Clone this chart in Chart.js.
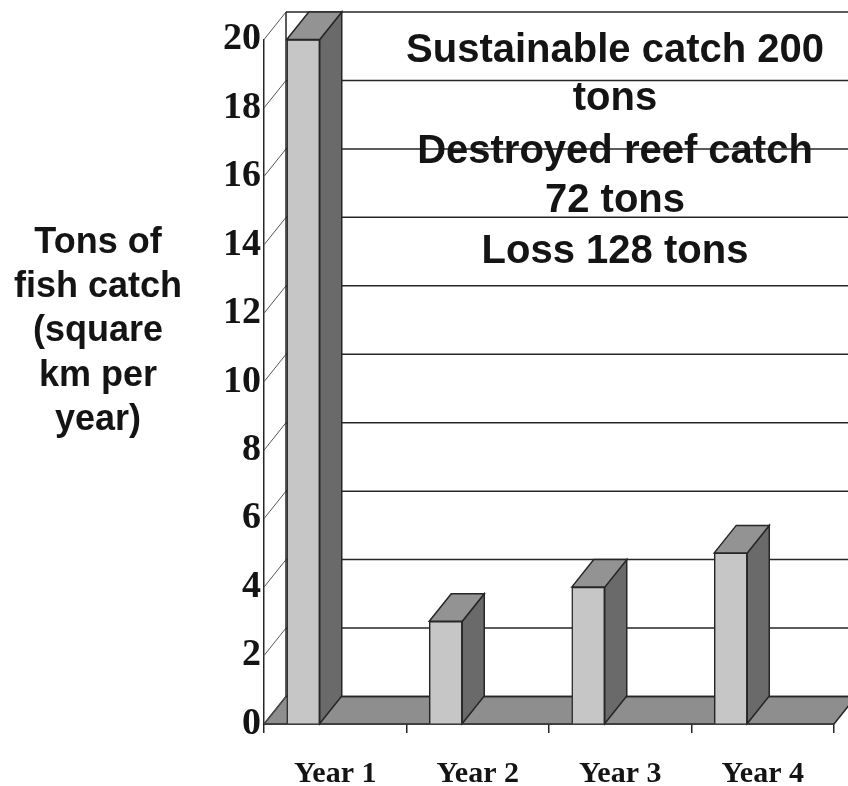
<!DOCTYPE html>
<html>
<head>
<meta charset="utf-8">
<title>Fish catch</title>
<script src="https://cdn.jsdelivr.net/npm/chart.js@4.4.1/dist/chart.umd.min.js"></script>
<style>
  html, body { margin: 0; padding: 0; background: #fff; }
  #wrap { width: 848px; height: 786px; }
</style>
</head>
<body>
<div id="wrap"><canvas id="catchChart" width="848" height="786"></canvas></div>
<script>
// data
const years = ['Year 1', 'Year 2', 'Year 3', 'Year 4'];
const catchTons = [20, 3, 4, 5];
const yMin = 0, yMax = 20, yStep = 2;
const axisTitle = ['Tons of', 'fish catch', '(square', 'km per', 'year)'];
const notes = ['Sustainable catch 200', 'tons', 'Destroyed reef catch', '72 tons', 'Loss 128 tons'];

// look
const SANS = '"Liberation Sans", Arial, sans-serif';
const SERIF = '"Liberation Serif", "Times New Roman", serif';
const INK = '#141414';
const LINE = '#262626';
const FRONT = '#c6c6c6';
const SIDE = '#6a6a6a';
const TOP = '#939393';
const FLOOR = '#8e8e8e';

// fake 3d: depth offset of the back wall, and where bars sit inside a category
const DX = 22, DY = -27.5, SHIFT = -32;

function poly(ctx, pts, fill) {
  ctx.beginPath();
  ctx.moveTo(pts[0][0], pts[0][1]);
  for (let i = 1; i < pts.length; i++) ctx.lineTo(pts[i][0], pts[i][1]);
  ctx.closePath();
  ctx.fillStyle = fill;
  ctx.fill();
  ctx.strokeStyle = LINE;
  ctx.lineWidth = 1.5;
  ctx.stroke();
}

const depthPlugin = {
  id: 'depth',
  beforeDatasetsDraw(chart) {
    const { ctx, chartArea, scales: { y } } = chart;
    const wallLeft = chartArea.left + DX;
    const y0 = y.getPixelForValue(yMin);
    const yTop = y.getPixelForValue(yMax);

    ctx.save();
    // floor
    poly(ctx, [
      [chartArea.left, y0],
      [chartArea.right, y0],
      [chartArea.right + DX, y0 + DY],
      [wallLeft, y0 + DY]
    ], FLOOR);

    // back wall grid and the little slanted tick connectors
    y.ticks.forEach(t => {
      const py = y.getPixelForValue(t.value);
      ctx.beginPath();
      ctx.moveTo(wallLeft, py + DY);
      ctx.lineTo(chart.width, py + DY);
      ctx.strokeStyle = LINE;
      ctx.lineWidth = 1.5;
      ctx.stroke();

      ctx.beginPath();
      ctx.moveTo(chartArea.left, py);
      ctx.lineTo(wallLeft, py + DY);
      ctx.strokeStyle = '#555';
      ctx.lineWidth = 1;
      ctx.stroke();
    });

    ctx.beginPath();
    ctx.moveTo(wallLeft, yTop + DY);
    ctx.lineTo(wallLeft, y0 + DY);
    ctx.strokeStyle = LINE;
    ctx.lineWidth = 1.5;
    ctx.stroke();
    ctx.restore();

    // bars are drawn a bit left of the category centre
    ctx.save();
    ctx.translate(SHIFT, 0);
  },
  afterDatasetsDraw(chart) {
    const ctx = chart.ctx;
    chart.getDatasetMeta(0).data.forEach(bar => {
      const { x, y, base, width } = bar.getProps(['x', 'y', 'base', 'width'], true);
      const l = x - width / 2, r = x + width / 2;
      poly(ctx, [[r, y], [r + DX, y + DY], [r + DX, base + DY], [r, base]], SIDE);
      poly(ctx, [[l, y], [l + DX, y + DY], [r + DX, y + DY], [r, y]], TOP);
    });
    ctx.restore();
  },
  afterDraw(chart) {
    const ctx = chart.ctx;
    ctx.save();
    ctx.fillStyle = INK;
    ctx.textAlign = 'center';
    ctx.textBaseline = 'alphabetic';

    ctx.font = 'bold 36px ' + SANS;
    axisTitle.forEach((s, i) => ctx.fillText(s, 98, 253 + i * 44.2));

    ctx.font = 'bold 40px ' + SANS;
    const noteBase = [62, 110, 163, 212, 263];
    notes.forEach((s, i) => ctx.fillText(s, 615, noteBase[i]));
    ctx.restore();
  }
};

new Chart(document.getElementById('catchChart'), {
  type: 'bar',
  data: {
    labels: years,
    datasets: [{
      data: catchTons,
      backgroundColor: FRONT,
      borderColor: LINE,
      borderWidth: 1.5,
      barThickness: 33,
      clip: false
    }]
  },
  options: {
    responsive: false,
    animation: false,
    layout: { padding: { left: 0, right: 14, top: 39.5, bottom: 0 } },
    plugins: {
      legend: { display: false },
      tooltip: { enabled: false }
    },
    scales: {
      x: {
        ticks: {
          color: INK,
          padding: 23,
          font: { family: SERIF, size: 30, weight: 'bold' }
        },
        grid: {
          drawOnChartArea: false,
          drawTicks: true,
          tickLength: 9,
          color: LINE,
          lineWidth: 1.5,
          offset: true
        },
        border: { color: LINE, width: 1.5 },
        afterFit: s => { s.height = 62; }
      },
      y: {
        min: yMin,
        max: yMax,
        ticks: {
          stepSize: yStep,
          color: INK,
          padding: 3,
          font: { family: SERIF, size: 38, weight: 'bold' }
        },
        grid: { drawOnChartArea: false, drawTicks: false },
        border: { color: LINE, width: 1.5 },
        afterFit: s => { s.width = 264; }
      }
    }
  },
  plugins: [depthPlugin]
});
</script>
</body>
</html>
